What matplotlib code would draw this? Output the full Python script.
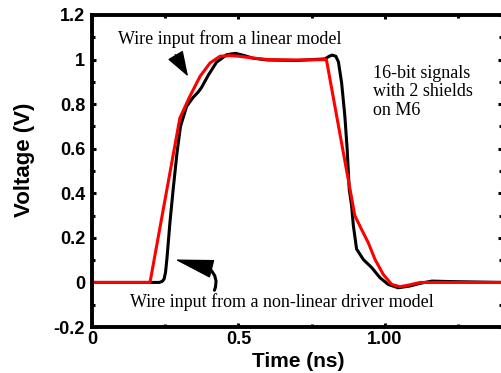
import matplotlib
matplotlib.use("Agg")
import matplotlib.pyplot as plt

# linear model (red)
t_linear = [0.0, 0.198, 0.300, 0.334, 0.369, 0.403, 0.437, 0.470, 0.500, 0.550,
            0.600, 0.700, 0.800, 0.897, 0.920, 0.943, 0.966, 0.994, 1.023, 1.051,
            1.080, 1.120, 1.200, 1.400]
v_linear = [0.0, 0.0, 0.738, 0.835, 0.925, 0.985, 1.015, 1.018, 1.015, 1.007,
            1.0, 0.998, 1.0, 0.300, 0.238, 0.178, 0.103, 0.036, -0.009, -0.019,
            -0.012, 0.0, 0.0, 0.0]

# non-linear driver model (black)
t_driver = [0.0, 0.204, 0.230, 0.240, 0.246, 0.251, 0.256, 0.266, 0.277, 0.290,
            0.302, 0.323, 0.345, 0.363, 0.374, 0.397, 0.425, 0.460, 0.490, 0.520,
            0.550, 0.600, 0.700, 0.795, 0.810, 0.820, 0.832, 0.841, 0.852, 0.863,
            0.871, 0.878, 0.886, 0.892, 0.903, 0.926, 0.955, 0.983, 1.011, 1.045,
            1.085, 1.120, 1.160, 1.220, 1.400]
v_driver = [0.0, 0.0, 0.0, 0.005, 0.015, 0.045, 0.11, 0.268, 0.417, 0.58,
            0.70, 0.79, 0.83, 0.855, 0.875, 0.93, 0.988, 1.022, 1.028, 1.018,
            1.006, 0.998, 0.996, 1.003, 1.015, 1.02, 1.015, 0.99, 0.895, 0.746,
            0.596, 0.417, 0.345, 0.255, 0.150, 0.103, 0.066, 0.021, -0.009, -0.024,
            -0.016, -0.004, 0.006, 0.004, 0.0]

x_major = [0.0, 0.5, 1.0]
x_major_labels = ["0", "0.5", "1.00"]
x_minor = [0.25, 0.75, 1.25]
y_major = [-0.2, 0.0, 0.2, 0.4, 0.6, 0.8, 1.0, 1.2]
y_major_labels = ["-0.2", "0", "0.2", "0.4", "0.6", "0.8", "1", "1.2"]
y_minor = [-0.1, 0.1, 0.3, 0.5, 0.7, 0.9, 1.1]

serif = "Liberation Serif"
sans = "Liberation Sans"

fig = plt.figure(figsize=(5.01, 3.73), dpi=100)
ax = fig.add_axes([0.1836, 0.1233, 0.8188, 0.8365])

ax.plot(t_driver, v_driver, color="black", lw=2.2, solid_joinstyle="round")
ax.plot(t_linear, v_linear, color="#ff0000", lw=2.2, solid_joinstyle="round")

ax.set_xlim(0, 1.4)
ax.set_ylim(-0.2, 1.2)

ax.set_xticks(x_major)
ax.set_xticklabels(x_major_labels)
ax.set_xticks(x_minor, minor=True)
ax.set_yticks(y_major)
ax.set_yticklabels(y_major_labels)
ax.set_yticks(y_minor, minor=True)

for side in ax.spines.values():
    side.set_linewidth(2.8)

ax.tick_params(which="both", direction="in", top=True, right=True, width=2.2)
ax.tick_params(which="major", length=3)
ax.tick_params(which="minor", length=2)
ax.tick_params(axis="x", which="major", pad=3)
ax.tick_params(axis="y", which="major", pad=5)
for lbl in ax.get_xticklabels() + ax.get_yticklabels():
    lbl.set_fontfamily(sans)
    lbl.set_fontweight("bold")
    lbl.set_fontsize(13)

ax.set_xlabel("Time (ns)", fontfamily=sans, fontweight="bold", fontsize=15)
ax.xaxis.set_label_coords(0.502, -0.08)
ax.set_ylabel("Voltage (V)", fontfamily=sans, fontweight="bold", fontsize=16)
ax.yaxis.set_label_coords(-0.14, 0.535)

# annotations
ax.text(0.471, 1.09, "Wire input from a linear model", family=serif,
        fontsize=13, ha="center", va="center")
ax.text(0.648, -0.09, "Wire input from a non-linear driver model", family=serif,
        fontsize=13, ha="center", va="center")
ax.text(0.958, 0.975, "16-bit signals\nwith 2 shields\non M6", family=serif,
        fontsize=13, ha="left", va="top", linespacing=1.1)

ax.annotate("", xy=(0.328, 0.924), xytext=(0.284, 1.022),
            arrowprops=dict(arrowstyle="-|>,head_length=16,head_width=5.5",
                            mutation_scale=1, color="black", shrinkA=0, shrinkB=0))
ax.annotate("", xy=(0.283, 0.103), xytext=(0.403, 0.063),
            arrowprops=dict(arrowstyle="-|>,head_length=25,head_width=6",
                            mutation_scale=1, color="black", shrinkA=0, shrinkB=0))
ax.annotate("", xy=(0.400, 0.063), xytext=(0.418, -0.035),
            arrowprops=dict(arrowstyle="-", color="black", lw=2.2,
                            connectionstyle="arc3,rad=0.35",
                            shrinkA=0, shrinkB=0))

fig.savefig("out.png", dpi=100)
